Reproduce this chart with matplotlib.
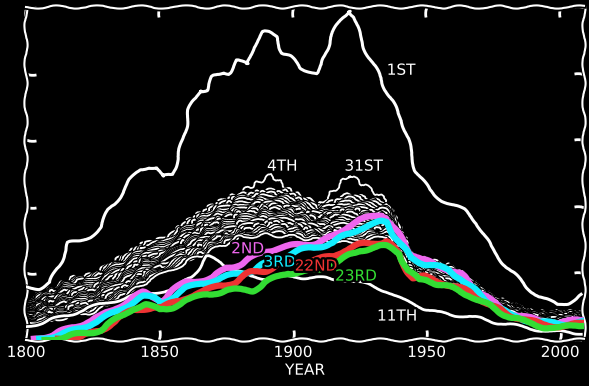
import matplotlib
matplotlib.use("Agg")
import matplotlib.pyplot as plt
import matplotlib.patheffects as pe

# "1st" of the month
first_years = [1800, 1805, 1809, 1813, 1816, 1820, 1824, 1828, 1831, 1835, 1839, 1843, 1846, 1849,
               1851, 1855, 1857, 1859, 1861, 1865, 1868, 1870, 1874, 1876, 1879, 1883, 1885, 1889,
               1891, 1894, 1896, 1899, 1903, 1909, 1911, 1914, 1918, 1921, 1923, 1925, 1929, 1933,
               1936, 1941, 1946, 1951, 1956, 1964, 1969, 1974, 1980, 1986, 1992, 1999, 2003, 2008]
first_vals = [0.80, 0.78, 0.86, 1.17, 1.46, 1.47, 1.55, 1.70, 1.95, 2.15, 2.40, 2.55, 2.60, 2.60,
              2.45, 2.48, 2.78, 3.00, 3.45, 3.75, 3.75, 3.95, 4.02, 4.01, 4.20, 4.13, 4.40, 4.62,
              4.61, 4.55, 4.31, 4.25, 4.08, 4.01, 4.13, 4.55, 4.80, 4.95, 4.85, 4.55, 4.20, 3.93,
              3.65, 3.30, 2.55, 2.25, 2.10, 1.95, 1.76, 1.40, 1.10, 0.86, 0.65, 0.53, 0.56, 0.68]

# "11th"
eleventh_years = [1800, 1812, 1830, 1845, 1855, 1862, 1868, 1873, 1878, 1884, 1890, 1900, 1910,
                  1920, 1928, 1935, 1941, 1947, 1954, 1960, 1966, 1972, 1985, 1998, 2008]
eleventh_vals = [0.20, 0.33, 0.56, 0.71, 0.75, 0.95, 1.25, 1.17, 1.05, 0.95, 0.93, 0.95, 0.93,
                 0.90, 0.83, 0.74, 0.60, 0.51, 0.41, 0.38, 0.36, 0.30, 0.20, 0.12, 0.11]

# highlighted days
second_years = [1803, 1810, 1815, 1828, 1840, 1844, 1848, 1851, 1855, 1860, 1865, 1870, 1875, 1880,
                1889, 1894, 1903, 1909, 1915, 1920, 1925, 1933, 1935, 1940, 1944, 1948, 1951, 1956,
                1963, 1969, 1975, 1981, 1988, 1994, 2000, 2008]
second_vals = [0.02, 0.08, 0.15, 0.35, 0.63, 0.71, 0.65, 0.60, 0.75, 0.86, 0.90, 0.93, 1.08, 1.14,
               1.32, 1.38, 1.43, 1.46, 1.55, 1.70, 1.80, 1.88, 1.85, 1.55, 1.31, 1.20, 1.17, 1.10,
               0.98, 0.75, 0.56, 0.41, 0.33, 0.27, 0.26, 0.30]

third_years = [1805, 1815, 1828, 1840, 1844, 1848, 1851, 1855, 1860, 1865, 1870, 1878, 1885, 1889,
               1895, 1903, 1909, 1915, 1920, 1925, 1933, 1935, 1940, 1944, 1948, 1952, 1958, 1963,
               1969, 1975, 1981, 1988, 1994, 2000, 2008]
third_vals = [0.02, 0.10, 0.30, 0.57, 0.65, 0.63, 0.57, 0.65, 0.78, 0.83, 0.90, 0.98, 1.05, 1.13,
              1.23, 1.35, 1.40, 1.46, 1.58, 1.68, 1.77, 1.76, 1.46, 1.23, 1.16, 1.13, 1.05, 0.93,
              0.71, 0.53, 0.38, 0.30, 0.26, 0.24, 0.27]

twentysecond_years = [1812, 1821, 1828, 1840, 1848, 1851, 1859, 1865, 1872, 1878, 1884, 1890, 1896,
                      1903, 1915, 1919, 1925, 1933, 1935, 1937, 1941, 1945, 1949, 1954, 1959, 1966,
                      1975, 1981, 1988, 1994, 2000, 2008]
twentysecond_vals = [0.02, 0.05, 0.15, 0.45, 0.50, 0.48, 0.63, 0.71, 0.80, 0.87, 1.01, 1.05, 1.16,
                     1.17, 1.25, 1.35, 1.43, 1.47, 1.50, 1.43, 1.16, 0.93, 0.95, 0.87, 0.83, 0.72,
                     0.50, 0.38, 0.29, 0.23, 0.21, 0.24]

twentythird_years = [1807, 1815, 1828, 1840, 1845, 1850, 1855, 1860, 1868, 1875, 1885, 1890, 1898,
                     1903, 1910, 1918, 1925, 1933, 1935, 1940, 1943, 1947, 1950, 1958, 1966, 1975,
                     1981, 1988, 1994, 2000, 2008]
twentythird_vals = [0.00, 0.05, 0.15, 0.48, 0.53, 0.45, 0.50, 0.60, 0.68, 0.75, 0.75, 0.87, 1.01,
                    1.02, 1.05, 1.20, 1.35, 1.41, 1.40, 1.30, 1.05, 0.90, 0.90, 0.80, 0.68, 0.48,
                    0.35, 0.26, 0.20, 0.18, 0.23]

# the remaining days (white bundle)
bundle_years = [1800, 1810, 1817, 1825, 1835, 1845, 1852, 1860, 1870, 1880,
                1892, 1900, 1910, 1921, 1935, 1945, 1960, 1975, 1990, 2008]
bundle = {
    "4th": [.60, .78, .93, .98, 1.23, 1.47, 1.52, 1.77, 2.03, 2.21, 2.48, 2.20, 1.95, 2.10, 2.00, 1.22, 1.05, .62, .40, .40],
    "31st": [.58, .76, .90, .96, 1.20, 1.45, 1.50, 1.75, 2.00, 2.18, 2.25, 2.22, 2.03, 2.48, 2.10, 1.27, 1.10, .65, .42, .42],
    "5th": [.58, .75, .89, .94, 1.19, 1.43, 1.48, 1.73, 1.98, 2.16, 2.23, 2.17, 1.99, 2.19, 2.06, 1.25, 1.08, .64, .41, .41],
    "6th": [.56, .73, .87, .92, 1.16, 1.40, 1.46, 1.70, 1.96, 2.13, 2.20, 2.15, 1.97, 2.16, 2.04, 1.24, 1.07, .63, .41, .40],
    "7th": [.55, .71, .84, .90, 1.14, 1.38, 1.44, 1.68, 1.93, 2.10, 2.18, 2.12, 1.95, 2.13, 2.02, 1.22, 1.06, .63, .40, .40],
    "8th": [.53, .68, .82, .87, 1.10, 1.35, 1.42, 1.65, 1.89, 2.06, 2.14, 2.09, 1.92, 2.09, 1.99, 1.21, 1.04, .62, .40, .39],
    "9th": [.52, .66, .79, .85, 1.08, 1.33, 1.40, 1.63, 1.87, 2.03, 2.11, 2.06, 1.90, 2.06, 1.97, 1.20, 1.03, .61, .39, .38],
    "10th": [.51, .65, .77, .82, 1.05, 1.30, 1.37, 1.60, 1.84, 2.00, 2.08, 2.03, 1.88, 2.03, 1.95, 1.18, 1.02, .61, .39, .38],
    "12th": [.49, .63, .75, .80, 1.03, 1.28, 1.35, 1.58, 1.81, 1.97, 2.06, 2.01, 1.86, 1.99, 1.92, 1.17, 1.00, .60, .38, .37],
    "13th": [.48, .61, .72, .78, 1.00, 1.25, 1.33, 1.55, 1.79, 1.94, 2.03, 1.98, 1.84, 1.96, 1.90, 1.16, .99, .60, .38, .36],
    "14th": [.47, .59, .70, .76, .98, 1.23, 1.31, 1.53, 1.76, 1.91, 2.00, 1.95, 1.82, 1.93, 1.88, 1.15, .98, .59, .37, .36],
    "15th": [.45, .57, .68, .73, .95, 1.21, 1.29, 1.51, 1.73, 1.88, 1.97, 1.93, 1.80, 1.90, 1.86, 1.13, .97, .58, .37, .35],
    "16th": [.44, .55, .66, .71, .93, 1.18, 1.27, 1.48, 1.70, 1.85, 1.94, 1.90, 1.78, 1.87, 1.84, 1.12, .96, .58, .36, .34],
    "17th": [.43, .53, .63, .69, .90, 1.16, 1.25, 1.46, 1.68, 1.82, 1.92, 1.87, 1.75, 1.83, 1.81, 1.11, .94, .57, .36, .34],
    "18th": [.42, .51, .61, .67, .88, 1.13, 1.23, 1.43, 1.65, 1.79, 1.89, 1.84, 1.73, 1.80, 1.79, 1.10, .93, .57, .35, .33],
    "19th": [.40, .49, .59, .64, .85, 1.11, 1.21, 1.41, 1.62, 1.76, 1.86, 1.82, 1.71, 1.77, 1.77, 1.08, .92, .56, .35, .32],
    "20th": [.39, .47, .57, .62, .83, 1.09, 1.19, 1.39, 1.59, 1.73, 1.83, 1.79, 1.69, 1.74, 1.75, 1.07, .91, .55, .34, .32],
    "21st": [.38, .45, .54, .60, .80, 1.06, 1.17, 1.36, 1.57, 1.70, 1.80, 1.76, 1.67, 1.71, 1.73, 1.06, .90, .55, .34, .31],
    "24th": [.36, .43, .51, .57, .77, 1.03, 1.14, 1.33, 1.53, 1.66, 1.77, 1.73, 1.64, 1.67, 1.70, 1.04, .88, .54, .33, .30],
    "25th": [.35, .41, .49, .55, .74, 1.01, 1.12, 1.31, 1.51, 1.63, 1.74, 1.70, 1.62, 1.63, 1.68, 1.03, .87, .53, .33, .30],
    "26th": [.33, .39, .46, .52, .71, .98, 1.09, 1.28, 1.47, 1.60, 1.71, 1.67, 1.60, 1.59, 1.65, 1.02, .85, .53, .32, .29],
    "27th": [.32, .37, .44, .50, .69, .95, 1.07, 1.25, 1.45, 1.59, 1.68, 1.64, 1.57, 1.56, 1.63, 1.00, .84, .52, .32, .28],
    "28th": [.30, .34, .41, .47, .66, .92, 1.05, 1.22, 1.41, 1.57, 1.64, 1.61, 1.55, 1.52, 1.60, .99, .83, .51, .31, .27],
    "29th": [.29, .32, .39, .45, .63, .90, 1.03, 1.20, 1.38, 1.56, 1.62, 1.58, 1.53, 1.49, 1.58, .98, .82, .51, .31, .27],
    "30th": [.27, .30, .36, .42, .60, .87, 1.00, 1.17, 1.35, 1.55, 1.58, 1.55, 1.50, 1.45, 1.55, .96, .80, .50, .30, .26],
}

x_ticks = [1800, 1850, 1900, 1950, 2000]

plt.rcParams["font.family"] = ["DejaVu Sans"]
plt.rcParams["path.sketch"] = (1.6, 45, 2)
plt.rcParams["path.effects"] = [pe.withStroke(linewidth=3.4, foreground="black")]

fig = plt.figure(figsize=(5.89, 3.86), dpi=100, facecolor="black")
ax = fig.add_axes([0.044, 0.119, 0.9475, 0.863])
ax.set_facecolor("black")

# give each thin line its own wobble so the bundle reads as separate strands
for i, (day, vals) in enumerate(bundle.items()):
    ln, = ax.plot(bundle_years, vals, color="white", lw=1.3, zorder=2,
                  path_effects=[pe.withStroke(linewidth=3.0, foreground="black")])
    ln.set_sketch_params(2.0, 18 + 3 * (i % 9), 3 + (i % 4))

ax.plot(eleventh_years, eleventh_vals, color="white", lw=2, zorder=3)
ax.plot(first_years, first_vals, color="white", lw=2.2, zorder=3)

ax.plot(second_years, second_vals, color="#ee66ee", lw=4.5, zorder=4)
ax.plot(third_years, third_vals, color="#11eeff", lw=4.5, zorder=5)
ax.plot(twentysecond_years, twentysecond_vals, color="#ee3333", lw=4.5, zorder=6)
ax.plot(twentythird_years, twentythird_vals, color="#33dd33", lw=4.5, zorder=7)

labels = [("1ST", 1940.5, 4.05, "white"), ("4TH", 1896, 2.61, "white"),
          ("31ST", 1926.5, 2.61, "white"), ("2ND", 1883, 1.37, "#ee66ee"),
          ("3RD", 1895, 1.17, "#11eeff"), ("22ND", 1908.6, 1.11, "#ee3333"),
          ("23RD", 1923.6, 0.96, "#33dd33"), ("11TH", 1939, 0.36, "white")]
for txt, x, y, c in labels:
    ax.text(x, y, txt, color=c, fontsize=11, ha="center", va="center", zorder=10)

ax.set_xlim(1800, 2009)
ax.set_ylim(0, 5)
ax.set_xticks(x_ticks)
ax.set_yticks([0, 1, 2, 3, 4, 5])
ax.set_yticklabels([])
ax.tick_params(direction="in", length=7, width=2, colors="white", labelsize=11,
               top=True, right=True)
for s in ax.spines.values():
    s.set_color("white")
    s.set_linewidth(1.5)
ax.set_xlabel("YEAR", color="white", fontsize=11, labelpad=2)

fig.savefig("out.png", dpi=100, facecolor="black")
plt.close()
